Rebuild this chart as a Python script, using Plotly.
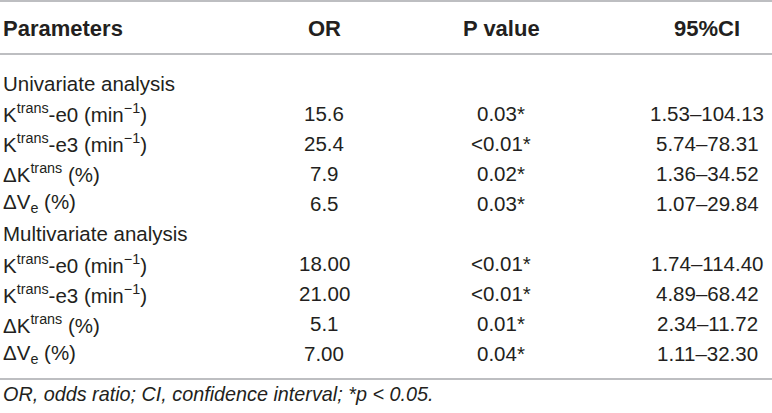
import plotly.graph_objects as go

# ---- table content ----
headers = ["Parameters", "OR", "P value", "95%CI"]
params = [
    "Univariate analysis",
    "K<sup>trans</sup>-e0 (min<sup>−1</sup>)",
    "K<sup>trans</sup>-e3 (min<sup>−1</sup>)",
    "ΔK<sup>trans</sup> (%)",
    "ΔV<sub>e</sub> (%)",
    "Multivariate analysis",
    "K<sup>trans</sup>-e0 (min<sup>−1</sup>)",
    "K<sup>trans</sup>-e3 (min<sup>−1</sup>)",
    "ΔK<sup>trans</sup> (%)",
    "ΔV<sub>e</sub> (%)",
]
or_vals = ["", "15.6", "25.4", "7.9", "6.5", "", "18.00", "21.00", "5.1", "7.00"]
p_vals = ["", "0.03*", "<0.01*", "0.02*", "0.03*", "", "<0.01*", "<0.01*", "0.01*", "0.04*"]
ci_vals = ["", "1.53–104.13", "5.74–78.31", "1.36–34.52", "1.07–29.84",
           "", "1.74–114.40", "4.89–68.42", "2.34–11.72", "1.11–32.30"]
footnote = "OR, odds ratio; CI, confidence interval; *p < 0.05."

# ---- layout (pixel-like axis units) ----
W, H = 772, 413
col_x = [1, 324, 501, 707]
col_anchor = ["left", "center", "center", "center"]
header_y = 28
row_y0, row_step = 83, 30.1
rule_top, rule_mid, rule_bot = 1, 54, 379
foot_y = 394
TXT = "#231f20"
RULE = "#a7a9ac"
FONT = "Liberation Sans, Arial, sans-serif"
FS = 20.5
FS_HEAD = 22
FS_FOOT = 19.8

fig = go.Figure()
fig.add_trace(go.Scatter(x=[0, W], y=[0, H], mode="markers",
                         marker=dict(opacity=0), hoverinfo="skip", showlegend=False))

ann = []
for i, h in enumerate(headers):
    ann.append(dict(x=col_x[i], y=header_y, text=f"<b>{h}</b>", xanchor=col_anchor[i],
                    yanchor="middle", showarrow=False,
                    font=dict(size=FS_HEAD, color=TXT, family=FONT)))

def esc(s):
    return s.replace("<", "&lt;")

for r in range(len(params)):
    y = row_y0 + r * row_step
    cells = [params[r], esc(or_vals[r]), esc(p_vals[r]), ci_vals[r]]
    for i, c in enumerate(cells):
        if not c:
            continue
        ann.append(dict(x=col_x[i], y=y, text=c, xanchor=col_anchor[i], yanchor="middle",
                        showarrow=False, font=dict(size=FS, color=TXT, family=FONT)))

ann.append(dict(x=col_x[0], y=foot_y, text=f"<i>{esc(footnote)}</i>", xanchor="left",
                yanchor="middle", showarrow=False,
                font=dict(size=FS_FOOT, color=TXT, family=FONT)))

shapes = [dict(type="line", x0=0, x1=W, y0=yy, y1=yy, xref="x", yref="y",
               line=dict(color=RULE, width=1.6)) for yy in (rule_top, rule_mid, rule_bot)]

fig.update_layout(
    width=W, height=H, margin=dict(l=0, r=0, t=0, b=0),
    paper_bgcolor="white", plot_bgcolor="white",
    xaxis=dict(range=[0, W], visible=False, fixedrange=True),
    yaxis=dict(range=[H, 0], visible=False, fixedrange=True),
    annotations=ann, shapes=shapes, showlegend=False,
)
fig.write_html("out.html", config={"displayModeBar": False},
               post_script="document.body.style.margin='0';document.body.style.overflow='hidden';")
